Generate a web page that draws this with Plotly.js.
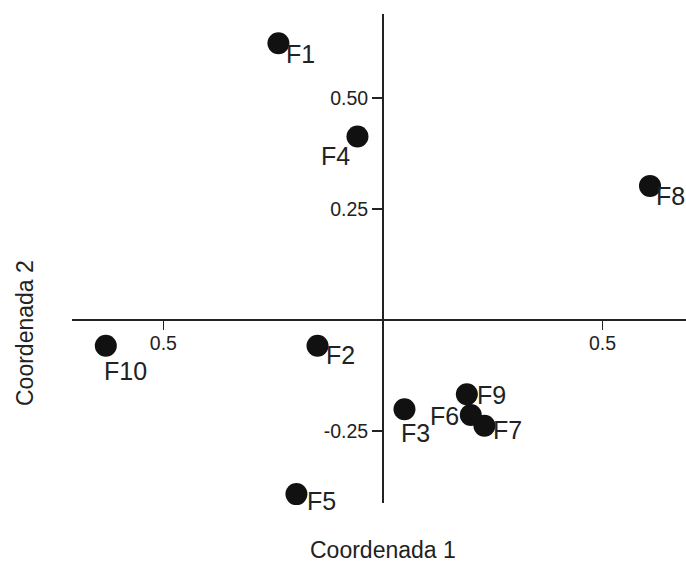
<!DOCTYPE html>
<html><head><meta charset="utf-8">
<script src="https://cdn.plot.ly/plotly-3.0.1.min.js"></script>
<style>html,body{margin:0;padding:0;background:#fff}#chart{width:686px;height:562px}</style>
</head><body><div id="chart"></div>
<script>
const labels = ["F1","F2","F3","F4","F5","F6","F7","F8","F9","F10"];
const coord1 = [-0.238,-0.149,0.049,-0.058,-0.197,0.200,0.231,0.608,0.191,-0.631];
const coord2 = [0.623,-0.058,-0.201,0.413,-0.392,-0.214,-0.238,0.302,-0.167,-0.058];
const xTickVals = [-0.5, 0.5];
const xTickText = ["0.5","0.5"];
const yTickVals = [-0.25, 0.25, 0.5];
const yTickText = ["-0.25","0.25","0.50"];

// label offsets from marker centre (pixels, styling only)
const labelShift = {
  F1:[22,12], F2:[23,10], F3:[11,25], F4:[-22,20], F5:[25,8],
  F6:[-26,2], F7:[23,5], F8:[21,11], F9:[25,2], F10:[20,26]
};

const W=686,H=562;
const font = "Liberation Sans, Arial, sans-serif";
const ink = "#222";
const trace = {
  x: coord1, y: coord2, mode: "markers",
  type: "scatter", cliponaxis: false,
  marker: {size: 22, color: "#111"},
  hoverinfo: "none"
};
const labelAnns = labels.map((t,i)=>({
  text: t, x: coord1[i], y: coord2[i], xref: "x", yref: "y",
  xanchor: "center", yanchor: "middle", showarrow: false,
  xshift: labelShift[t][0], yshift: -labelShift[t][1] + 1,
  font: {family: font, size: 25, color: ink}
}));
const layout = {
  width: W, height: H,
  margin: {l:0,r:0,t:0,b:0},
  paper_bgcolor: "#fff", plot_bgcolor: "#fff",
  showlegend: false,
  xaxis: {
    domain: [72/W, 1], range: [-0.708, 0.690],
    anchor: "free", position: (H-320)/H,
    showgrid: false, zeroline: false,
    showline: true, linecolor: ink, linewidth: 2,
    ticks: "outside", ticklen: 9, tickwidth: 1.5, tickcolor: ink,
    ticklabelstandoff: -3,
    tickvals: xTickVals, ticktext: xTickText,
    tickfont: {family: font, size: 19.5, color: ink}
  },
  yaxis: {
    domain: [(H-503)/H, (H-14)/H], range: [-0.412, 0.689],
    anchor: "free", position: 383/W,
    showgrid: false, zeroline: false,
    showline: true, linecolor: ink, linewidth: 2,
    ticks: "outside", ticklen: 10, tickwidth: 1.5, tickcolor: ink,
    tickvals: yTickVals, ticktext: yTickText,
    tickfont: {family: font, size: 19.5, color: ink}
  },
  annotations: labelAnns.concat([
    {text: "Coordenada 1", xref: "paper", yref: "paper", x: 383/W, y: (H-550)/H,
     xanchor: "center", yanchor: "middle",
     showarrow: false, font: {family: font, size: 23, color: ink}},
    {text: "Coordenada 2", xref: "paper", yref: "paper", x: 25/W, y: (H-333)/H,
     xanchor: "center", yanchor: "middle",
     textangle: -90, showarrow: false, font: {family: font, size: 23, color: ink}}
  ])
};
Plotly.newPlot("chart", [trace], layout, {staticPlot: true});
</script></body></html>
